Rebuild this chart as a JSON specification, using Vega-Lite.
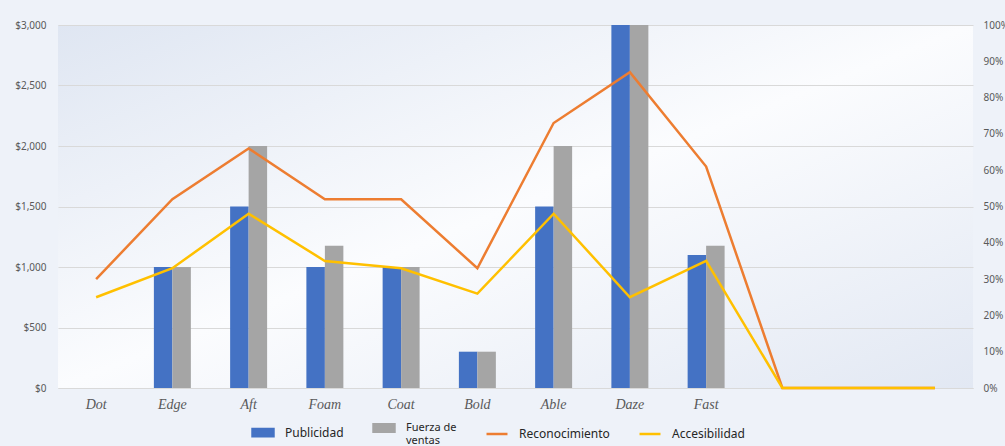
{
  "$schema": "https://vega.github.io/schema/vega-lite/v6.json",
  "width": 915,
  "height": 363,
  "autosize": {"type": "none"},
  "padding": {"left": 58, "top": 25, "right": 32, "bottom": 58},
  "background": "#eef2f9",
  "config": {
    "font": "Noto Sans",
    "view": {
      "stroke": null,
      "fill": {
        "gradient": "linear", "x1": 0, "y1": 0, "x2": 1, "y2": 1,
        "stops": [
          {"offset": 0, "color": "#dfe6f2"},
          {"offset": 0.5, "color": "#fbfcfe"},
          {"offset": 1, "color": "#e2e8f3"}
        ]
      }
    }
  },
  "data": {
    "values": [
      {"cat": "Dot", "serie": "Publicidad", "valor": 0},
      {"cat": "Edge", "serie": "Publicidad", "valor": 1000},
      {"cat": "Aft", "serie": "Publicidad", "valor": 1500},
      {"cat": "Foam", "serie": "Publicidad", "valor": 1000},
      {"cat": "Coat", "serie": "Publicidad", "valor": 1000},
      {"cat": "Bold", "serie": "Publicidad", "valor": 300},
      {"cat": "Able", "serie": "Publicidad", "valor": 1500},
      {"cat": "Daze", "serie": "Publicidad", "valor": 3000},
      {"cat": "Fast", "serie": "Publicidad", "valor": 1100},
      {"cat": "Dot", "serie": "Fuerza de ventas", "valor": 0},
      {"cat": "Edge", "serie": "Fuerza de ventas", "valor": 1000},
      {"cat": "Aft", "serie": "Fuerza de ventas", "valor": 2000},
      {"cat": "Foam", "serie": "Fuerza de ventas", "valor": 1175},
      {"cat": "Coat", "serie": "Fuerza de ventas", "valor": 1000},
      {"cat": "Bold", "serie": "Fuerza de ventas", "valor": 300},
      {"cat": "Able", "serie": "Fuerza de ventas", "valor": 2000},
      {"cat": "Daze", "serie": "Fuerza de ventas", "valor": 3000},
      {"cat": "Fast", "serie": "Fuerza de ventas", "valor": 1175},
      {"cat": "Dot", "serie": "Reconocimiento", "valor": 0.30},
      {"cat": "Edge", "serie": "Reconocimiento", "valor": 0.52},
      {"cat": "Aft", "serie": "Reconocimiento", "valor": 0.66},
      {"cat": "Foam", "serie": "Reconocimiento", "valor": 0.52},
      {"cat": "Coat", "serie": "Reconocimiento", "valor": 0.52},
      {"cat": "Bold", "serie": "Reconocimiento", "valor": 0.33},
      {"cat": "Able", "serie": "Reconocimiento", "valor": 0.73},
      {"cat": "Daze", "serie": "Reconocimiento", "valor": 0.87},
      {"cat": "Fast", "serie": "Reconocimiento", "valor": 0.61},
      {"cat": "_10", "serie": "Reconocimiento", "valor": 0},
      {"cat": "_11", "serie": "Reconocimiento", "valor": 0},
      {"cat": "_12", "serie": "Reconocimiento", "valor": 0},
      {"cat": "Dot", "serie": "Accesibilidad", "valor": 0.25},
      {"cat": "Edge", "serie": "Accesibilidad", "valor": 0.33},
      {"cat": "Aft", "serie": "Accesibilidad", "valor": 0.48},
      {"cat": "Foam", "serie": "Accesibilidad", "valor": 0.35},
      {"cat": "Coat", "serie": "Accesibilidad", "valor": 0.33},
      {"cat": "Bold", "serie": "Accesibilidad", "valor": 0.26},
      {"cat": "Able", "serie": "Accesibilidad", "valor": 0.48},
      {"cat": "Daze", "serie": "Accesibilidad", "valor": 0.25},
      {"cat": "Fast", "serie": "Accesibilidad", "valor": 0.35},
      {"cat": "_10", "serie": "Accesibilidad", "valor": 0},
      {"cat": "_11", "serie": "Accesibilidad", "valor": 0},
      {"cat": "_12", "serie": "Accesibilidad", "valor": 0}
    ]
  },
  "encoding": {
    "x": {
      "field": "cat",
      "type": "nominal",
      "sort": ["Dot", "Edge", "Aft", "Foam", "Coat", "Bold", "Able", "Daze", "Fast", "_10", "_11", "_12"],
      "scale": {"paddingInner": 0.515, "paddingOuter": 0.2575},
      "axis": {
        "title": null,
        "labelAngle": 0,
        "labelExpr": "slice(datum.value, 0, 1) == '_' ? '' : datum.value",
        "labelFont": "Liberation Serif",
        "labelFontStyle": "italic",
        "labelFontSize": 14,
        "labelColor": "#595959",
        "labelPadding": 9,
        "ticks": false,
        "domainColor": "#d9d9d9",
        "domainWidth": 1
      }
    }
  },
  "layer": [
    {
      "transform": [{"filter": {"field": "serie", "oneOf": ["Publicidad", "Fuerza de ventas"]}}],
      "mark": {"type": "bar"},
      "encoding": {
        "xOffset": {
          "field": "serie",
          "sort": ["Publicidad", "Fuerza de ventas"],
          "scale": {"paddingInner": 0, "paddingOuter": 0}
        },
        "y": {
          "field": "valor",
          "type": "quantitative",
          "scale": {"domain": [0, 3000]},
          "axis": {
            "title": null,
            "values": [0, 500, 1000, 1500, 2000, 2500, 3000],
            "format": "$,.0f",
            "domain": false,
            "ticks": false,
            "labelPadding": 12,
            "labelFontSize": 10,
            "labelColor": "#595959",
            "gridColor": "#d9d9d9",
            "gridWidth": 1
          }
        },
        "color": {
          "field": "serie",
          "type": "nominal",
          "scale": {
            "domain": ["Publicidad", "Fuerza de ventas", "Reconocimiento", "Accesibilidad"],
            "range": ["#4472c4", "#a5a5a5", "#ed7d31", "#ffc000"]
          },
          "legend": {
            "orient": "none",
            "legendX": 193,
            "legendY": 391,
            "direction": "horizontal",
            "title": null,
            "symbolSize": 440,
            "labelFontSize": 12,
            "labelColor": "#262626",
            "labelOffset": 10,
            "columnPadding": 24,
            "labelLimit": 200,
            "labelExpr": "datum.label == 'Fuerza de ventas' ? ['Fuerza de', 'ventas'] : datum.label",
            "encode": {
              "symbols": {
                "update": {
                  "shape": {"signal": "datum.value == 'Publicidad' || datum.value == 'Fuerza de ventas' ? 'M-1,-0.35H1V0.35H-1Z' : 'M-1,0H1'"},
                  "fill": {"signal": "datum.value == 'Publicidad' ? '#4472c4' : datum.value == 'Fuerza de ventas' ? '#a5a5a5' : 'transparent'"},
                  "stroke": {"signal": "datum.value == 'Reconocimiento' ? '#ed7d31' : datum.value == 'Accesibilidad' ? '#ffc000' : 'transparent'"},
                  "strokeWidth": {"value": 2.5},
                  "opacity": {"value": 1}
                }
              },
              "labels": {
                "update": {
                  "fontSize": {"signal": "datum.label == 'Fuerza de ventas' ? 11 : 12"}
                }
              }
            }
          }
        }
      }
    },
    {
      "transform": [{"filter": {"field": "serie", "oneOf": ["Reconocimiento", "Accesibilidad"]}}],
      "mark": {"type": "line", "strokeWidth": 2.5},
      "encoding": {
        "y": {
          "field": "valor",
          "type": "quantitative",
          "scale": {"domain": [0, 1]},
          "axis": {
            "orient": "right",
            "title": null,
            "values": [0, 0.1, 0.2, 0.3, 0.4, 0.5, 0.6, 0.7, 0.8, 0.9, 1],
            "format": ".0%",
            "grid": false,
            "domain": false,
            "ticks": false,
            "labelPadding": 10,
            "labelFontSize": 10,
            "labelColor": "#595959"
          }
        },
        "color": {
          "field": "serie",
          "type": "nominal"
        }
      }
    }
  ],
  "resolve": {"scale": {"y": "independent"}}
}
